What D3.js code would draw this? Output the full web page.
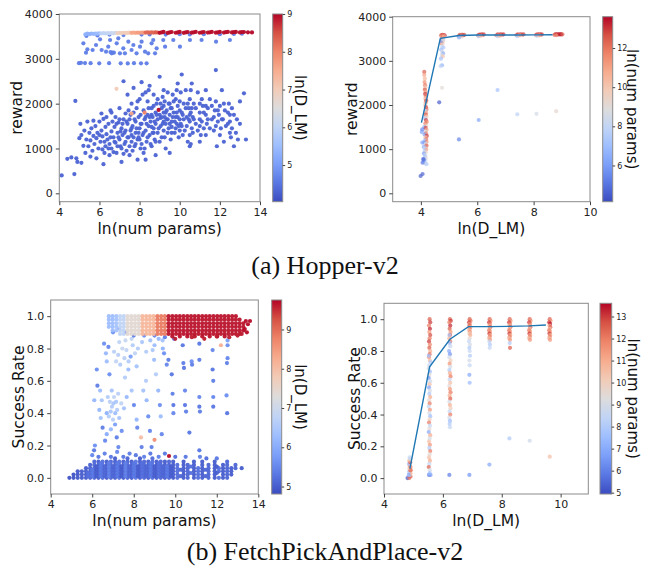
<!DOCTYPE html>
<html>
<head>
<meta charset="utf-8">
<script src="https://cdn.jsdelivr.net/npm/d3@7"></script>
<style>
  body { margin: 0; background: #fff; }
  svg { display: block; }
</style>
</head>
<body>
<div id="chart"></div>
<script>
// ---------- data ----------

// Hopper, left panel: [ln(num params), reward, ln(D_LM)]
var hopperBand = [
  [5.3,3545,5.3],[5.4,3560,5.3],[5.5,3550,5.3],[5.6,3565,5.3],[5.7,3555,5.4],[5.8,3565,5.4],[5.9,3560,5.5],[6.0,3570,5.5],
  [6.1,3565,6.0],[6.2,3575,6.0],[6.3,3565,6.0],[6.4,3575,6.1],[6.5,3570,6.1],[6.6,3575,6.1],[6.7,3570,6.2],[6.8,3578,6.2],
  [6.9,3575,6.9],[7.0,3580,6.9],[7.1,3575,6.9],[7.2,3582,7.0],[7.3,3578,7.0],[7.4,3580,7.0],[7.5,3583,7.0],
  [7.6,3580,7.6],[7.7,3585,7.6],[7.8,3580,7.6],[7.9,3585,7.7],[8.0,3582,7.7],[8.1,3586,7.7],[8.2,3584,7.7],
  [8.3,3585,8.3],[8.4,3588,8.3],[8.5,3584,8.3],[8.6,3588,8.3],[8.7,3586,8.3],[8.8,3590,8.4],[8.9,3587,8.4],
  [9.0,3580,8.95],[9.2,3600,8.95],[9.4,3578,8.95],[9.6,3598,8.95],[9.8,3582,8.95],[10.0,3600,8.95],[10.2,3580,8.95],
  [10.4,3598,8.95],[10.6,3584,8.95],[10.8,3600,8.95],[11.0,3582,8.95],[11.2,3598,8.95],[11.4,3585,8.95],[11.6,3600,8.95],
  [11.8,3584,8.95],[12.0,3600,8.95],[12.2,3586,8.95],[12.4,3600,8.95],[12.6,3588,8.95],[12.8,3600,8.95],[13.0,3590,8.95],
  [13.2,3598,9.0],[13.4,3592,9.0],[13.6,3590,9.0],
  [9.1,3590,8.95],[9.5,3590,8.95],[9.9,3590,8.95],[10.3,3590,8.95],[10.7,3592,8.95],[11.1,3592,8.95],[11.5,3592,8.95],
  [11.9,3592,8.95],[12.3,3594,8.95],[12.7,3594,8.95],[13.1,3596,8.95]
];
var hopperUpper = [
  [5.35,3510],[5.9,3520],[6.5,3540],[7.2,3530],[8.1,3540],[8.5,3545],[9.3,3540],[10.0,3550],[10.5,3545],[11.2,3550],[12.0,3550],[12.7,3555],[13.1,3560],
  [5.2,3346],[5.4,3212],[5.66,3197],[5.83,3309],[6.03,3435],[6.11,3197],[6.33,3160],[6.44,3271],[6.53,3420],[6.61,3123],
  [6.72,3138],[6.86,3346],[6.94,3457],[7.02,3123],[7.19,3234],[7.27,3123],[7.44,3383],[7.6,3197],[7.69,3309],[7.85,3123],
  [8.02,3271],[8.1,3383],[8.27,3160],[8.43,3123],[8.6,3346],[8.68,3420],[8.77,3123],[8.85,3234],[9.18,3420],[9.27,3271],
  [9.68,3420],[10.01,3271],[10.51,3420],[11.09,3420],[11.81,3383],[12.5,3420],[5.33,3138],[6.65,3140],[6.55,3150],
  [4.98,2902],[5.08,2910],[5.28,2905],[5.56,2902],[5.99,2900],[6.48,2902],[7.06,2900],[7.41,2898],[7.72,2902],[8.07,2900],[8.35,2900]
];
var hopperUpperLnD = 4.6;
var hopperCloud = [
  [4.12,400],[4.4,770],[4.6,800],[4.75,430],[4.8,2060],[4.85,780],[4.9,700],[5.0,1230],[5.05,1550],[5.1,1300],[5.1,680],
  [5.2,1060],[5.3,900],[5.35,1200],[5.4,1600],[5.45,1050],[5.5,1350],[5.55,1180],[5.6,1450],[5.65,950],[5.7,1280],
  [5.75,1100],[5.8,1500],[5.85,1230],[5.9,1350],[5.95,1000],[6.0,1600],[6.05,1150],[6.1,1400],[6.15,1270],[6.2,650],
  [6.2,1660],[6.25,900],[6.3,1050],[6.3,1480],[6.35,1320],[6.4,1200],[6.45,1550],[6.5,850],[6.5,1100],[6.55,1850],
  [6.6,1380],[6.6,1000],[6.65,1600],[6.7,1250],[6.75,1480],[6.8,1700],[6.8,1130],[6.85,900],[6.9,1350],[6.95,1580],
  [7.0,1200],[7.0,1900],[7.05,1050],[7.1,1450],[7.1,700],[7.15,1300],[7.2,1650],[7.2,2500],[7.25,1100],[7.3,1400],
  [7.3,1780],[7.35,950],[7.4,1550],[7.4,2200],[7.45,1250],[7.5,1650],[7.5,850],[7.55,1400],[7.6,2000],[7.6,1150],
  [7.65,1500],[7.7,1800],[7.7,2350],[7.75,1050],[7.8,1600],[7.8,1350],[7.85,1900],[7.9,1200],[7.9,750],[7.95,1700],
  [8.0,1450],[8.0,2100],[8.05,1000],[8.1,1550],[8.1,2480],[8.15,1300],[8.2,1850],[8.2,900],[8.25,1650],[8.3,1400],
  [8.3,2250],[8.35,1150],[8.4,1750],[8.4,2050],[8.45,1500],[8.5,1300],[8.5,2400],[8.55,1600],[8.6,1900],[8.6,1050],
  [8.65,1700],[8.7,1450],[8.7,2200],[8.75,1200],[8.8,1800],[8.8,1550],[8.85,2000],[8.9,1350],[8.9,1650],[9.0,2600],
  [9.0,1750],[9.05,1500],[9.1,1900],[9.1,1250],[9.15,2150],[9.2,1600],[9.2,1400],[9.2,1800],[9.25,1700],[9.25,2050],
  [9.3,1550],[9.3,1000],[9.35,1850],[9.4,2250],[9.4,1650],[9.45,1450],[9.5,1750],[9.5,2000],[9.55,1200],[9.6,1900],
  [9.6,1600],[9.65,2200],[9.7,1800],[9.75,1350],[9.8,2100],[9.8,1700],[9.85,1550],[9.9,1950],[9.9,2450],[9.95,1250],
  [10.0,1850],[10.0,1650],[10.05,2250],[10.1,1500],[10.1,2650],[10.15,1750],[10.2,2000],[10.25,1400],[10.3,2300],
  [10.35,1700],[10.4,1150],[10.45,1900],[10.5,1600],[10.5,2100],[10.5,1300],[10.55,1800],[10.6,2450],[10.6,1450],
  [10.65,1700],[10.7,2000],[10.8,1550],[10.9,2250],[11.0,1800],[11.0,1650],[11.05,1300],[11.1,2100],[11.15,1950],
  [11.2,1450],[11.3,2300],[11.3,1750],[11.35,1550],[11.4,1900],[11.5,2100],[11.6,1650],[11.7,1400],[11.75,1850],
  [11.8,2750],[11.8,2050],[11.85,1050],[11.9,1600],[11.95,1750],[12.0,1950],[12.05,1450],[12.1,2300],[12.15,1650],
  [12.2,1150],[12.25,1850],[12.4,1550],[12.45,2000],[12.5,1750],[12.5,1350],[12.55,1250],[12.6,1900],[12.7,1050],
  [12.85,1650],[12.9,1200],[13.0,2050],[13.2,2230],[13.3,1200],
  [10.5,1050],[10.55,1100],[11.0,1150],[9.5,900],[8.8,850],[8.3,750],[7.6,1300],[8.7,1350],[9.05,1680],[9.6,1480],
  [8.05,1750],[8.45,1900],[7.95,1250],[8.6,1480],[9.2,1950],[9.85,1800],[10.0,1400],[10.5,1750],[11.0,1500],[11.3,1950],
  [5.25,1400],[5.55,820],[5.7,1620],[5.85,780],[6.0,1300],[6.1,1780],[6.15,980],[6.25,1150],[6.35,1700],[6.45,1000],
  [6.55,1250],[6.6,1800],[6.7,920],[6.75,1150],[6.85,1550],[6.9,1050],[6.95,1250],[7.0,1650],[7.05,1380],[7.1,1000],
  [7.15,1550],[7.2,880],[7.25,1350],[7.3,1150],[7.35,1600],[7.4,1250],[7.45,1850],[7.5,1050],[7.55,1750],[7.6,1450],
  [7.65,950],[7.7,1250],[7.75,1650],[7.8,1100],[7.85,1450],[7.9,2050],[7.95,1350],[8.0,1200],[8.05,1550],[8.1,1100],
  [8.15,2200],[8.2,1350],[8.25,1000],[8.3,1700],[8.35,1550],[8.4,1250],[8.45,2300],[8.5,1700],[8.55,1100],[8.6,1750],
  [8.65,1350],[8.7,1950],[8.75,1600],[8.8,1150],[8.85,1750],[8.9,2100],[8.95,1450],[9.0,1150],[9.05,2000],[9.1,1700],
  [9.15,1550],[9.2,2300],[9.25,1250],[9.3,1800],[9.35,1650],[9.4,1350],[9.45,2000],[9.5,1550],[9.55,1900],[9.6,1350],
  [9.65,1700],[9.7,2050],[9.75,1600],[9.8,1450],[9.85,2300],[9.9,1700],[9.95,1500],[10.0,2050],[10.05,1550],[10.1,1800],
  [10.15,1300],[10.2,1650],[10.3,1900],[10.35,1500],[10.4,2000],[10.45,1650],[10.55,2300],[10.6,1900],[10.65,1350],
  [10.7,1650],[10.8,1900],[10.9,1400],[11.0,2000],[11.1,1600],[11.2,1800],[11.3,1300],[11.4,1650],[11.5,1450],
  [11.6,1950],[11.7,1700],[11.8,1500],[11.9,1850],[12.0,1300],[12.1,1650],[12.2,2000],[12.3,1500],[12.4,1800],
  [12.5,1600],[12.6,1450],[12.7,1750],[12.8,1350],[13.0,1550]
];
var hopperCloudLnD = 4.3;
var hopperOdd = [[6.85,2330,7.0],[7.6,1780,7.6],[8.25,1800,8.0],[8.95,1860,9.0]];

// Hopper, right panel: [ln(D_LM), reward, ln(num params)]
var hopperDataPts = [
  [4.12,2750,12.5],[4.12,2680,11],[4.14,2600,10.5],[4.13,2520,11.5],[4.15,2450,12],[4.16,2400,10],[4.14,2350,12.5],
  [4.17,2300,11],[4.15,2250,13],[4.18,2200,12],[4.16,2150,10.5],[4.19,2100,12.8],[4.17,2050,11.5],[4.15,2000,9.5],
  [4.18,1950,13],[4.2,1900,12],[4.16,1860,8],[4.19,1820,11],[4.17,1780,12.5],[4.2,1740,10],[4.14,1700,7.5],
  [4.18,1660,13],[4.21,1620,11.5],[4.16,1580,12],[4.19,1540,9.5],[4.12,1500,6.5],[4.17,1480,12.8],[4.2,1440,11],
  [4.15,1400,8.5],[4.18,1360,12],[4.13,1330,6],[4.21,1300,13],[4.16,1270,10],[4.19,1230,12],[4.14,1200,7],
  [4.2,1170,11.5],[4.12,1150,5.8],[4.17,1120,9],[4.2,1080,12.5],[4.1,1050,6.5],[4.15,1020,8],[4.19,990,11],
  [4.13,960,7.5],[4.17,930,9.5],[4.11,900,6],[4.16,870,8.5],[4.14,830,7],[4.18,800,9],[4.12,770,6.5],[4.16,740,8],
  [4.1,710,7],[4.15,680,8.5],[4.2,660,7.5],[3.99,392,4.5],[4.06,437,4.6],[4.08,777,4.8],[4.1,754,5],[4.06,693,5.2],
  [4.05,1450,5.5],[4.03,1390,6],[4.05,1150,6.2],
  [4.72,3580,12.5],[4.76,3590,13],[4.8,3585,12],[4.84,3580,13.3],[4.74,3550,11],[4.78,3540,12],[4.82,3560,10.5],
  [4.75,3480,11.5],[4.79,3450,10],[4.73,3400,12],[4.77,3380,9.5],[4.75,3320,8],[4.8,3300,7.5],[4.72,3250,7],
  [4.76,3200,9],[4.79,3170,6.5],[4.74,3130,8.5],[4.78,3100,10],[4.71,3050,7],[4.75,2900,6.5],[4.7,2880,8],
  [4.72,3450,6],[4.8,3480,8.5],
  [5.34,3560,11.5],[5.38,3590,12.5],[5.42,3575,13],[5.46,3595,12],[5.5,3580,13.3],[5.54,3590,12.5],[5.36,3540,8],[5.44,3550,9.5],[5.35,3530,6.8],
  [6.03,3575,12],[6.07,3595,13],[6.11,3585,12.5],[6.15,3600,13.3],[6.19,3590,12],[6.23,3598,13],[6.05,3555,7.5],[6.12,3565,10],
  [6.68,3580,12.5],[6.73,3598,13],[6.78,3588,12],[6.83,3600,13.3],[6.88,3592,12.5],[6.93,3600,13],[6.72,3555,8],[6.8,3570,10.5],
  [7.39,3585,12],[7.44,3600,13],[7.49,3590,12.5],[7.54,3602,13.3],[7.59,3594,12],[7.64,3600,13],[7.42,3560,7.5],[7.5,3575,10],
  [8.09,3588,12.5],[8.13,3602,13],[8.17,3592,12],[8.21,3603,13.3],[8.25,3596,12.5],[8.29,3600,13],[8.12,3565,8],[8.2,3578,10.5],
  [8.74,3590,12.5],[8.78,3604,13],[8.82,3594,13.5],[8.86,3605,13],[8.9,3597,13.5],[8.94,3604,13],[8.98,3598,13.5],[9.02,3600,12.5],[8.8,3580,11],
  [4.65,2060,4.4],[4.75,2390,9],[5.35,1220,5.3],[6.05,1660,6.2],[6.72,2340,7],[7.42,1790,7.8],[8.1,1800,8.5],[8.8,1860,9.2]
];
var hopperMeanX = [4.02, 4.69, 5.35, 6.02, 6.69, 7.36, 8.02, 8.67];
var hopperMeanY = [1600, 3510, 3575, 3585, 3587, 3587, 3588, 3590];

// FetchPickAndPlace, left panel
// band columns: [ln(num params), ln(D_LM), success rates]
var fetchBandCols = [
  [6.8,6.3,[1.0,0.978,0.956,0.934]],[6.98,6.3,[1.0,0.978,0.956,0.934,0.912]],[7.16,6.4,[1.0,0.978,0.956,0.934,0.912]],
  [7.34,6.8,[1.0,0.978,0.956,0.934,0.912,0.89]],[7.52,6.8,[1.0,0.978,0.956,0.934,0.912,0.89]],
  [7.7,7.4,[1.0,0.978,0.956,0.934,0.912,0.89]],[7.88,7.4,[1.0,0.978,0.956,0.934,0.912,0.89]],
  [8.06,7.4,[1.0,0.978,0.956,0.934,0.912,0.89]],[8.24,7.4,[1.0,0.978,0.956,0.934,0.912,0.89]],
  [8.42,8.1,[1.0,0.978,0.956,0.934,0.912,0.89]],[8.6,8.1,[1.0,0.978,0.956,0.934,0.912,0.89]],
  [8.78,8.1,[1.0,0.978,0.956,0.934,0.912,0.89]],[8.96,8.1,[1.0,0.978,0.956,0.934,0.912,0.89]],
  [9.14,8.85,[1.0,0.978,0.956,0.934,0.912,0.89]],[9.32,8.85,[1.0,0.978,0.956,0.934,0.912,0.89]],
  [9.5,8.85,[1.0,0.978,0.956,0.934,0.912,0.89]],
  [9.68,9.65,[1.0,0.978,0.956,0.934,0.912,0.89]],[9.86,9.65,[1.0,0.978,0.956,0.934,0.912,0.89,0.875]],
  [10.04,9.65,[1.0,0.978,0.956,0.934,0.912,0.89]],[10.22,9.65,[1.0,0.978,0.956,0.934,0.912,0.89,0.875]],
  [10.4,9.65,[1.0,0.978,0.956,0.934,0.912,0.89]],[10.58,9.65,[1.0,0.978,0.956,0.934,0.912,0.89,0.875]],
  [10.76,9.65,[1.0,0.978,0.956,0.934,0.912,0.89]],[10.94,9.65,[1.0,0.978,0.956,0.934,0.912,0.89,0.875]],
  [11.12,9.65,[1.0,0.978,0.956,0.934,0.912,0.89]],[11.3,9.65,[1.0,0.978,0.956,0.934,0.912,0.89,0.875]],
  [11.48,9.65,[1.0,0.978,0.956,0.934,0.912,0.89]],[11.66,9.65,[1.0,0.978,0.956,0.934,0.912,0.89,0.875]],
  [11.84,9.65,[1.0,0.978,0.956,0.934,0.912,0.89]],[12.02,9.65,[1.0,0.978,0.956,0.934,0.912,0.89,0.875]],
  [12.2,9.65,[1.0,0.978,0.956,0.934,0.912,0.89]],[12.38,9.65,[1.0,0.978,0.956,0.934,0.912,0.89,0.875]],
  [12.56,9.65,[1.0,0.978,0.956,0.934,0.912,0.89]],[12.74,9.65,[1.0,0.978,0.956,0.934,0.912,0.89]],
  [12.92,9.65,[1.0,0.978,0.956,0.934,0.912,0.89]],[13.1,9.65,[0.978,0.956,0.934,0.912,0.89]],
  [13.28,9.65,[0.956,0.934,0.912]]
];
// low success columns: [ln(num params), ln(D_LM), success rates]
var fetchLowCols = [
  [4.9,4.9,[0.0]],[5.1,4.9,[0.0,0.02]],[5.3,4.95,[0.0,0.02,0.04]],[5.5,5.0,[0.0,0.02,0.04]],
  [5.7,5.0,[0.0,0.02,0.04,0.06]],[5.9,5.05,[0.0,0.02,0.04,0.06,0.08]],[6.1,5.1,[0.0,0.02,0.04,0.06,0.08,0.1]],
  [6.3,5.0,[0.0,0.02,0.04,0.06,0.08,0.1]],[6.5,5.2,[0.0,0.02,0.04,0.06,0.08,0.1]],[6.7,5.0,[0.0,0.02,0.04,0.06,0.08,0.1]],
  [6.9,5.1,[0.0,0.02,0.04,0.06,0.08,0.1]],[7.1,5.0,[0.0,0.02,0.04,0.06,0.08,0.1,0.12]],[7.3,5.2,[0.0,0.02,0.04,0.06,0.08,0.1]],
  [7.5,5.0,[0.0,0.02,0.04,0.06,0.08,0.1]],[7.7,5.1,[0.0,0.02,0.04,0.06,0.08,0.1,0.12]],[7.9,5.0,[0.0,0.02,0.04,0.06,0.08,0.1]],
  [8.1,5.3,[0.0,0.02,0.04,0.06,0.08,0.1]],[8.3,5.0,[0.0,0.02,0.04,0.06,0.08,0.1,0.12]],[8.5,5.1,[0.0,0.02,0.04,0.06,0.08,0.1]],
  [8.7,5.0,[0.0,0.02,0.04,0.06,0.08,0.1]],[8.9,5.2,[0.0,0.02,0.04,0.06,0.08,0.1,0.12]],[9.1,5.0,[0.0,0.02,0.04,0.06,0.08,0.1]],
  [9.3,5.1,[0.0,0.02,0.04,0.06,0.08,0.1]],[9.5,5.0,[0.0,0.02,0.04,0.06,0.08,0.1]],[9.7,5.1,[0.0,0.02,0.04,0.06,0.08,0.1]],
  [9.9,5.0,[0.0,0.02,0.04,0.06,0.08,0.1]],[10.1,5.2,[0.0,0.02,0.04,0.06,0.08]],[10.4,5.0,[0.0,0.02,0.04,0.06,0.08,0.1]],
  [10.6,5.1,[0.0,0.02,0.04,0.06,0.08]],[10.9,5.0,[0.0,0.02,0.04,0.06,0.08,0.1]],[11.1,5.2,[0.0,0.02,0.04,0.06]],
  [11.3,5.0,[0.0,0.02,0.04,0.06,0.08,0.1]],[11.6,5.1,[0.0,0.02,0.04,0.06,0.08]],[11.9,5.0,[0.0,0.02,0.04,0.06,0.08,0.1]],
  [12.1,5.2,[0.0,0.04,0.06]],[12.3,5.0,[0.0,0.02,0.04,0.06,0.08]],[12.5,5.1,[0.0,0.02,0.04,0.06,0.08,0.1]],
  [12.7,5.0,[0.02,0.04,0.06]],[12.9,5.1,[0.06,0.08]],[13.2,5.0,[0.06]],
  [5.8,5.2,[0.01,0.03]],[6.0,5.3,[0.01,0.03,0.05]],[6.2,5.0,[0.01,0.03,0.05,0.07]],[6.4,5.3,[0.01,0.03,0.05,0.07,0.09]],
  [6.6,5.1,[0.01,0.03,0.05,0.07]],[6.8,5.4,[0.01,0.03,0.05,0.07,0.09]],[7.0,5.1,[0.01,0.03,0.05,0.07]],
  [7.2,5.3,[0.01,0.03,0.05,0.07,0.09]],[7.4,5.0,[0.01,0.03,0.05,0.07]],[7.6,5.4,[0.01,0.03,0.05,0.07,0.09]],
  [7.8,5.1,[0.01,0.03,0.05,0.07]],[8.0,5.3,[0.01,0.03,0.05,0.07,0.09]],[8.2,5.0,[0.01,0.03,0.05,0.07]],
  [8.4,5.2,[0.01,0.03,0.05,0.07,0.09]],[8.6,5.1,[0.01,0.03,0.05,0.07]],[8.8,5.3,[0.01,0.03,0.05,0.07,0.09]],
  [9.0,5.0,[0.01,0.03,0.05,0.07]],[9.2,5.2,[0.01,0.03,0.05,0.07,0.09]],[9.4,5.1,[0.01,0.03,0.05,0.07]],
  [9.6,5.3,[0.01,0.03,0.05,0.07]],[9.8,5.0,[0.01,0.03,0.05,0.07]],[10.25,5.1,[0.01,0.05]],[10.75,5.2,[0.03,0.07]],
  [11.45,5.1,[0.01,0.05]],[12.0,5.0,[0.03,0.07]]
];
// scattered points: [ln(num params), success rate, ln(D_LM)]
var fetchMid = [
  [6.0,0.14,5.5],[6.09,0.17,5.3],[6.13,0.2,5.6],[6.22,0.67,5.6],[6.25,0.57,5.4],[6.1,0.48,6.2],[6.38,0.54,6.3],
  [6.46,0.48,6.5],[6.34,0.42,6.2],[6.41,0.37,6.4],[6.5,0.31,5.4],[6.62,0.23,5.5],[6.7,0.27,6.0],[6.57,0.83,5.6],
  [6.66,0.77,6.2],[6.78,0.81,5.5],[6.7,0.72,6.3],[6.83,0.64,5.6],[6.94,0.54,6.4],[7.02,0.46,6.5],[7.11,0.4,6.3],
  [6.89,0.41,6.5],[6.7,0.4,6.1],[7.1,0.33,5.8],[7.18,0.25,5.4],[7.26,0.19,5.5],[7.42,0.29,5.6],[7.53,0.43,6.4],
  [7.66,0.5,6.2],[7.58,0.62,6.6],[7.74,0.67,6.3],[7.85,0.75,5.8],[7.95,0.82,6.6],[8.06,0.77,6.8],[8.14,0.69,6.4],
  [7.9,0.54,6.5],[8.01,0.45,5.5],[8.14,0.36,6.2],[8.17,0.31,5.5],[8.38,0.19,5.4],[8.46,0.54,6.4],[8.59,0.6,6.6],
  [8.62,0.48,6.2],[8.7,0.38,5.6],[8.78,0.29,5.5],[8.86,0.19,5.4],[8.91,0.79,6.5],[8.98,0.73,6.3],[9.07,0.64,6.6],
  [9.18,0.54,6.2],[9.26,0.45,5.6],[9.3,0.38,6.3],[9.35,0.27,5.5],[9.39,0.85,6.4],[9.46,0.77,5.6],[9.59,0.7,5.5],
  [9.67,0.73,5.4],[9.83,0.64,5.3],[9.87,0.52,5.4],[9.91,0.45,5.3],[9.91,0.4,5.5],[9.94,0.86,5.4],[10.36,0.82,5.3],
  [10.39,0.71,5.4],[10.42,0.68,5.3],[10.47,0.54,5.5],[10.47,0.45,5.3],[10.52,0.41,5.4],[10.68,0.28,5.3],[10.79,0.72,5.6],
  [10.81,0.7,5.4],[11.16,0.83,5.3],[11.16,0.73,5.4],[11.16,0.5,5.5],[11.16,0.44,5.3],[11.19,0.41,5.4],[11.16,0.17,5.3],
  [11.19,0.13,5.4],[11.8,0.79,5.5],[11.8,0.67,5.3],[11.83,0.6,5.4],[11.83,0.5,5.5],[11.83,0.44,5.3],[12.52,0.85,5.8],
  [12.52,0.82,5.6],[12.52,0.74,5.5],[12.49,0.71,5.4],[12.47,0.51,5.6],[12.5,0.4,5.3],
  [6.75,0.5,6.6],[6.85,0.47,6.7],[6.95,0.44,6.6],[7.05,0.5,6.8],[7.15,0.47,6.5],[7.25,0.52,6.7],[6.8,0.38,6.6],
  [7.0,0.36,6.7],[6.9,0.3,6.2],[7.2,0.42,6.6],[7.3,0.37,6.4],[7.4,0.46,6.8],
  [7.05,0.78,6.7],[7.15,0.72,6.8],[7.25,0.76,6.7],[7.35,0.7,6.6],[7.45,0.8,6.9],[7.55,0.74,6.7],[7.65,0.79,6.8],
  [7.75,0.72,6.6],[7.3,0.84,6.8],[7.6,0.85,6.9],[7.9,0.86,6.8],[8.2,0.8,6.6],[8.4,0.84,6.5],[8.6,0.78,6.6],
  [8.8,0.85,6.4],[9.0,0.82,6.3],[9.2,0.86,6.2],[9.4,0.8,6.1],
  [7.0,0.9,5.6],[7.3,0.92,5.8],[7.6,0.9,5.5],[8.0,0.88,5.4],[8.5,0.88,5.6],[9.0,0.88,5.5],[9.5,0.87,5.4],
  [6.3,0.13,5.3],[6.6,0.15,5.4],[6.9,0.13,5.3],[7.2,0.16,5.5],[7.5,0.13,5.3],[7.8,0.15,5.4],[8.1,0.14,5.3],
  [8.5,0.13,5.4],[8.8,0.15,5.3],[9.2,0.13,5.4],[9.5,0.15,5.3],[10.0,0.13,5.2],[10.5,0.13,5.3],[11.5,0.12,5.2],[12.0,0.12,5.3]
];
var fetchTop = [
  [13.4,0.97,9.7],[13.5,0.95,9.7],[13.6,0.97,9.7],[13.35,0.92,9.7],[13.45,0.9,9.7],
  [10.0,0.86,9.6],[10.8,0.87,9.6],[11.4,0.86,9.6],[12.0,0.875,9.6],[12.6,0.87,9.6],[13.0,0.88,9.6],[13.2,0.89,9.6],
  [12.2,0.82,8.2],[8.35,0.25,8.0],[9.0,0.235,8.6],[9.7,0.135,9.7]
];

// FetchPickAndPlace, right panel: [ln(D_LM), success rate, ln(num params)]
var fetchDataPts = [
  [4.8,0.0,5.1],[4.86,0.0,12],[4.9,0.01,12.5],[4.87,0.02,9],[4.9,0.03,11],[4.85,0.04,8],[4.89,0.05,12.5],[4.86,0.06,10],
  [4.9,0.07,12],[4.87,0.08,11.5],[4.85,0.09,7.5],[4.89,0.1,12.8],[4.86,0.11,11],[4.88,0.12,9],[4.87,0.13,8.5],
  [4.84,0.02,7],[4.91,0.05,12],
  [5.55,1.0,12.5],[5.57,0.98,13],[5.53,0.96,12],[5.56,0.94,13.3],[5.54,0.92,11.5],[5.57,0.9,12.8],[5.55,0.88,12],
  [5.53,0.86,13],[5.56,0.84,11.8],[5.54,0.82,12.5],[5.57,0.8,11],[5.55,0.78,12.2],[5.53,0.76,11.5],[5.56,0.74,10.5],
  [5.52,0.77,7.5],[5.58,0.73,8],[5.54,0.71,8.5],[5.52,0.69,9],[5.56,0.67,7.5],[5.54,0.65,9.5],[5.52,0.63,6.5],
  [5.57,0.61,8.8],[5.55,0.59,10.5],[5.53,0.57,6.8],[5.56,0.55,9],[5.54,0.53,8],[5.57,0.51,11],[5.53,0.49,9.5],
  [5.55,0.47,12],[5.52,0.45,8.5],[5.56,0.43,11.5],[5.54,0.41,9],[5.57,0.39,7.5],[5.55,0.37,10],[5.53,0.35,12],
  [5.56,0.33,8.5],[5.54,0.31,9.5],[5.52,0.29,7],[5.57,0.27,11],[5.55,0.25,9],[5.53,0.23,10.5],[5.56,0.21,11.5],
  [5.54,0.19,8],[5.57,0.17,12],[5.55,0.15,9.5],[5.53,0.13,10.5],[5.56,0.11,11],[5.54,0.09,8.5],[5.52,0.07,12.5],
  [5.56,0.05,9],[5.53,0.02,6],[5.58,0.02,6.5],[5.55,0.03,7.5],
  [6.24,1.0,12.5],[6.27,0.99,13],[6.22,0.98,12],[6.25,0.96,13.2],[6.23,0.94,12.5],[6.26,0.92,11.5],[6.24,0.9,12.8],
  [6.22,0.88,11],[6.25,0.86,12],[6.22,0.9,8],[6.23,0.85,7.5],[6.25,0.83,8.5],[6.21,0.8,7],[6.24,0.78,6.5],
  [6.22,0.76,9],[6.26,0.74,10],[6.23,0.72,11.5],[6.25,0.7,9],[6.22,0.68,8],[6.24,0.66,11],[6.26,0.64,12],
  [6.23,0.62,8.5],[6.25,0.6,10.5],[6.22,0.58,9.5],[6.24,0.56,11.5],[6.26,0.54,12],[6.23,0.52,11],[6.25,0.5,12.5],
  [6.22,0.48,9],[6.24,0.46,11],[6.26,0.44,10],[6.23,0.42,8.5],[6.25,0.4,12],[6.22,0.38,9],[6.24,0.36,7.5],
  [6.23,0.34,8],[6.24,0.32,8.5],[6.22,0.02,6],
  [6.91,1.0,12.5],[6.94,0.99,12],[6.89,0.98,13],[6.92,0.97,11.5],[6.9,0.96,12.5],[6.93,0.95,11],[6.91,0.94,12],
  [6.89,0.93,10.5],[6.92,0.92,11.5],[6.9,0.91,10],[6.93,0.9,11],[6.91,0.88,9.5],[6.89,0.86,8.5],[6.92,0.84,9],
  [6.9,0.82,8],[6.91,0.8,8.5],[6.92,0.77,8],[6.9,0.74,9],[6.91,0.71,8.5],[6.9,0.65,7],[6.91,0.6,7.5],[6.9,0.02,6.5],
  [7.59,1.0,12.5],[7.62,0.99,11.5],[7.57,0.98,13],[7.6,0.97,12],[7.58,0.96,11],[7.61,0.95,12.5],[7.59,0.94,10.5],
  [7.57,0.93,12],[7.6,0.92,11.5],[7.58,0.91,13],[7.61,0.9,11],[7.59,0.89,12],[7.57,0.88,10.5],[7.6,0.87,11.5],
  [7.58,0.86,8.5],[7.6,0.84,8],[7.59,0.82,8.5],[7.58,0.085,7],
  [8.27,1.0,12.5],[8.3,0.99,11.5],[8.25,0.98,13],[8.28,0.97,12],[8.26,0.96,11],[8.29,0.95,12.5],[8.27,0.94,10.5],
  [8.25,0.93,12],[8.28,0.92,11.5],[8.26,0.91,13],[8.29,0.9,11],[8.27,0.89,12],[8.25,0.88,10.5],[8.28,0.87,11.5],
  [8.27,0.85,8],[8.28,0.82,12.5],[8.26,0.25,8],
  [8.95,1.0,12.5],[8.98,0.99,11.5],[8.93,0.98,13],[8.96,0.97,12],[8.94,0.96,11],[8.97,0.95,12.5],[8.95,0.94,10.5],
  [8.93,0.93,12],[8.96,0.92,11.5],[8.94,0.91,13],[8.97,0.9,11],[8.95,0.89,12],[8.93,0.88,10.5],[8.96,0.87,11.5],
  [8.95,0.235,8.8],
  [9.63,1.0,12.5],[9.66,0.99,11.5],[9.61,0.98,13],[9.64,0.97,13.5],[9.62,0.96,11],[9.65,0.95,12.5],[9.63,0.94,10.5],
  [9.61,0.93,12],[9.64,0.92,11.5],[9.62,0.91,13],[9.65,0.9,11],[9.63,0.89,12],[9.61,0.88,10.5],[9.64,0.87,11.5],
  [9.63,0.135,10.5]
];
var fetchMeanX = [4.88, 5.55, 6.24, 6.87, 7.55, 8.25, 8.93, 9.5];
var fetchMeanY = [0.06, 0.70, 0.874, 0.953, 0.953, 0.955, 0.958, 0.963];

var xTicksWide = [4, 6, 8, 10, 12, 14];
var xTicksDLM = [4, 6, 8, 10];
var yTicksReward = [0, 1000, 2000, 3000, 4000];
var yTicksRate = [0.0, 0.2, 0.4, 0.6, 0.8, 1.0];

// ---------- drawing ----------
var coolwarm = ["#3b4cc0","#5977e3","#7b9ff9","#9ebeff","#c0d4f5","#dddcdc",
                "#f2cbb7","#f7ac8e","#ee8468","#d65244","#b40426"];
var FONT = "DejaVu Sans, sans-serif";

var svg = d3.select("#chart").append("svg")
    .attr("width", 650)
    .attr("height", 568)
    .style("background", "#fff");

function flattenCols(cols) {
    var out = [];
    cols.forEach(function(c) {
        c[2].forEach(function(v) { out.push([c[0], v, c[1]]); });
    });
    return out;
}

function drawPanel(p, idx) {
    var x = d3.scaleLinear().domain(p.xDomain).range([p.box[0], p.box[2]]);
    var y = d3.scaleLinear().domain(p.yDomain).range([p.box[3], p.box[1]]);
    var color = d3.scaleSequential(d3.piecewise(d3.interpolateRgb, coolwarm))
        .domain(p.cbDomain).clamp(true);

    var clipId = "clip" + idx;
    svg.append("clipPath").attr("id", clipId)
      .append("rect")
        .attr("x", p.box[0]).attr("y", p.box[1])
        .attr("width", p.box[2] - p.box[0]).attr("height", p.box[3] - p.box[1]);

    var g = svg.append("g").attr("clip-path", "url(#" + clipId + ")");
    g.selectAll("circle")
        .data(p.points)
        .enter()
        .append("circle")
        .attr("cx", d => x(d[0]))
        .attr("cy", d => y(d[1]))
        .attr("r", p.r)
        .style("fill", d => color(d[2]))
        .style("fill-opacity", p.opacity);

    if (p.lineX) {
        var line = d3.line().x(d => x(d[0])).y(d => y(d[1]));
        g.append("path")
            .datum(d3.zip(p.lineX, p.lineY))
            .attr("d", line)
            .style("fill", "none")
            .style("stroke", "#1f77b4")
            .style("stroke-width", 1.4);
    }

    svg.append("rect")
        .attr("x", p.box[0]).attr("y", p.box[1])
        .attr("width", p.box[2] - p.box[0]).attr("height", p.box[3] - p.box[1])
        .style("fill", "none").style("stroke", "#8a8a8a").style("stroke-width", 1);

    var xAxis = svg.append("g")
        .attr("transform", `translate(0, ${p.box[3]})`)
        .call(d3.axisBottom(x).tickValues(p.xTicks).tickSize(3.5).tickPadding(3).tickFormat(d3.format("d")));
    var yAxis = svg.append("g")
        .attr("transform", `translate(${p.box[0]}, 0)`)
        .call(d3.axisLeft(y).tickValues(p.yTicks).tickSize(3.5).tickPadding(3).tickFormat(d3.format(p.yFormat)));
    [xAxis, yAxis].forEach(function(a) {
        a.select(".domain").remove();
        a.selectAll("line").style("stroke", "#444");
        a.selectAll("text").style("font-family", FONT).style("font-size", "11px").style("fill", "#222");
    });

    svg.append("text")
        .text(p.xLabel)
        .attr("x", (p.box[0] + p.box[2]) / 2)
        .attr("y", p.box[3] + 32)
        .style("text-anchor", "middle")
        .style("font-family", FONT).style("font-size", "15.5px").style("fill", "#111");
    svg.append("text")
        .text(p.yLabel)
        .attr("transform", `translate(${p.yLabelX}, ${(p.box[1] + p.box[3]) / 2}) rotate(-90)`)
        .attr("dy", "0.35em")
        .style("text-anchor", "middle")
        .style("font-family", FONT).style("font-size", "15.5px").style("fill", "#111");

    // colorbar
    var cb = p.cbBox;
    var gradId = "grad" + idx;
    var grad = svg.append("defs").append("linearGradient")
        .attr("id", gradId)
        .attr("x1", "0%").attr("y1", "100%")
        .attr("x2", "0%").attr("y2", "0%");
    coolwarm.forEach(function(c, i) {
        grad.append("stop").attr("offset", (i * 10) + "%").attr("stop-color", c);
    });
    svg.append("rect")
        .attr("x", cb[0]).attr("y", cb[1])
        .attr("width", cb[2] - cb[0]).attr("height", cb[3] - cb[1])
        .style("fill", "url(#" + gradId + ")")
        .style("stroke", "#8a8a8a").style("stroke-width", 1);
    var cbScale = d3.scaleLinear().domain(p.cbDomain).range([cb[3], cb[1]]);
    var cbAxis = svg.append("g")
        .attr("transform", `translate(${cb[2]}, 0)`)
        .call(d3.axisRight(cbScale).tickValues(p.cbTicks).tickSize(2.5).tickPadding(2).tickFormat(d3.format("d")));
    cbAxis.select(".domain").remove();
    cbAxis.selectAll("line").style("stroke", "#444");
    cbAxis.selectAll("text").style("font-family", FONT).style("font-size", "8px").style("fill", "#222");

    svg.append("text")
        .text(p.cbLabel)
        .attr("transform", `translate(${p.cbLabelX}, ${(cb[1] + cb[3]) / 2}) rotate(90)`)
        .attr("dy", "0.35em")
        .style("text-anchor", "middle")
        .style("font-family", FONT).style("font-size", "15px").style("fill", "#111");
}

var hopperLeftPts = []
    .concat(hopperCloud.map(d => [d[0], d[1], hopperCloudLnD]))
    .concat(hopperUpper.map(d => [d[0], d[1], hopperUpperLnD]))
    .concat(hopperBand)
    .concat(hopperOdd);

var fetchLeftPts = []
    .concat(flattenCols(fetchLowCols))
    .concat(fetchMid)
    .concat(flattenCols(fetchBandCols))
    .concat(fetchTop);

var panels = [
    {box: [59.3, 14, 260, 201.7], xDomain: [4, 14], yDomain: [-187, 4000],
     xTicks: xTicksWide, yTicks: yTicksReward, yFormat: "d",
     xLabel: "ln(num params)", yLabel: "reward", yLabelX: 17,
     points: hopperLeftPts, r: 2.1, opacity: 0.95,
     cbBox: [272.7, 14, 282.7, 201.7], cbDomain: [4.03, 9.0], cbTicks: [5, 6, 7, 8, 9],
     cbLabel: "ln(D_LM)", cbLabelX: 300},
    {box: [392.7, 16.7, 590, 201.7], xDomain: [3, 10], yDomain: [-190, 4000],
     xTicks: xTicksDLM, yTicks: yTicksReward, yFormat: "d",
     xLabel: "ln(D_LM)", yLabel: "reward", yLabelX: 352,
     points: hopperDataPts, r: 2.1, opacity: 0.68,
     lineX: hopperMeanX, lineY: hopperMeanY,
     cbBox: [602.7, 16.7, 612.7, 201.7], cbDomain: [4.15, 13.6], cbTicks: [6, 8, 10, 12],
     cbLabel: "ln(num params)", cbLabelX: 632},
    {box: [50.7, 300, 258.3, 494], xDomain: [4, 14], yDomain: [-0.1, 1.1],
     xTicks: xTicksWide, yTicks: yTicksRate, yFormat: ".1f",
     xLabel: "ln(num params)", yLabel: "Success Rate", yLabelX: 18.5,
     points: fetchLeftPts, r: 2.1, opacity: 0.95,
     cbBox: [271.7, 300, 281.7, 494], cbDomain: [4.81, 9.75], cbTicks: [5, 6, 7, 8, 9],
     cbLabel: "ln(D_LM)", cbLabelX: 300},
    {box: [384, 303.3, 588.3, 494], xDomain: [4, 10.94], yDomain: [-0.1, 1.1],
     xTicks: xTicksDLM, yTicks: yTicksRate, yFormat: ".1f",
     xLabel: "ln(D_LM)", yLabel: "Success Rate", yLabelX: 355,
     points: fetchDataPts, r: 2.1, opacity: 0.72,
     lineX: fetchMeanX, lineY: fetchMeanY,
     cbBox: [600, 303.3, 611.7, 494], cbDomain: [4.94, 13.6], cbTicks: [5, 6, 7, 8, 9, 10, 11, 12, 13],
     cbLabel: "ln(num params)", cbLabelX: 633}
];

panels.forEach(drawPanel);

// captions
[["(a) Hopper-v2", 274], ["(b) FetchPickAndPlace-v2", 560]].forEach(function(c) {
    svg.append("text")
        .text(c[0])
        .attr("x", 325).attr("y", c[1])
        .style("text-anchor", "middle")
        .style("font-family", "Liberation Serif, Times New Roman, serif")
        .style("font-size", "26px")
        .style("fill", "#111");
});
</script>
</body>
</html>
